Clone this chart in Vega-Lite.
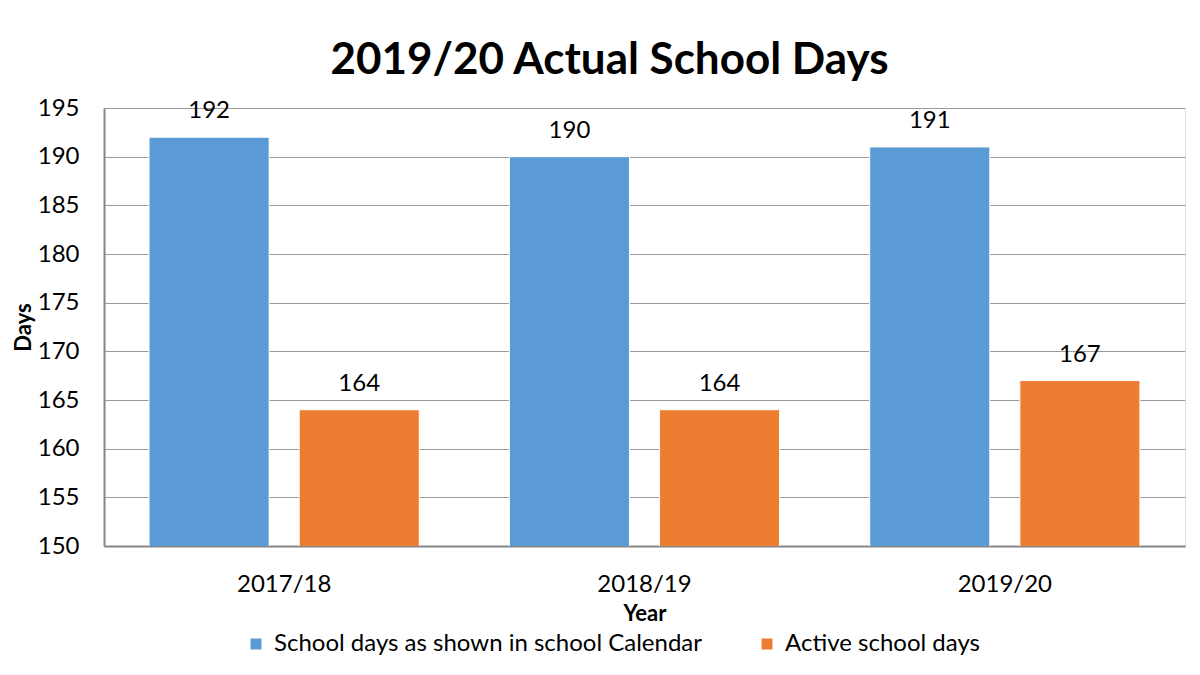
{
  "$schema": "https://vega.github.io/schema/vega-lite/v6.json",
  "autosize": "none",
  "width": 1081,
  "height": 438,
  "padding": {"left": 104, "top": 108, "right": 15, "bottom": 129},
  "background": "white",
  "title": {
    "text": "2019/20 Actual School Days",
    "font": "Lato",
    "fontSize": 44,
    "fontWeight": "bold",
    "color": "black",
    "anchor": "middle",
    "frame": "group",
    "baseline": "alphabetic",
    "offset": -22,
    "dx": -35
  },
  "data": {
    "values": [
      {"Year": "2017/18", "Series": "School days as shown in school Calendar", "Days": 192},
      {"Year": "2017/18", "Series": "Active school days", "Days": 164},
      {"Year": "2018/19", "Series": "School days as shown in school Calendar", "Days": 190},
      {"Year": "2018/19", "Series": "Active school days", "Days": 164},
      {"Year": "2019/20", "Series": "School days as shown in school Calendar", "Days": 191},
      {"Year": "2019/20", "Series": "Active school days", "Days": 167}
    ]
  },
  "encoding": {
    "x": {
      "field": "Year", "type": "nominal", "title": "Year",
      "scale": {"paddingInner": 0.25, "paddingOuter": 0.125},
      "axis": {
        "labelAngle": 0, "labelFont": "Lato", "labelFontSize": 24, "labelColor": "black",
        "labelPadding": 26, "ticks": false, "domainColor": "#868686", "domainWidth": 2,
        "titleFont": "Lato", "titleFontSize": 22, "titleFontWeight": "bold", "titleColor": "black",
        "titlePadding": 7
      }
    },
    "xOffset": {
      "field": "Series", "type": "nominal",
      "sort": ["School days as shown in school Calendar", "Active school days"],
      "scale": {"paddingInner": 0.2, "paddingOuter": 0}
    },
    "y": {
      "field": "Days", "type": "quantitative", "title": "Days",
      "scale": {"domain": [150, 195], "zero": false, "nice": false},
      "axis": {
        "values": [150, 155, 160, 165, 170, 175, 180, 185, 190, 195],
        "labelFont": "Lato", "labelFontSize": 24, "labelColor": "black", "labelPadding": 25,
        "ticks": false, "domainColor": "#868686", "domainWidth": 2,
        "grid": true, "gridColor": "#9a9a9a", "gridWidth": 1.2,
        "titleFont": "Lato", "titleFontSize": 22, "titleFontWeight": "bold", "titleColor": "black",
        "titlePadding": 2
      }
    }
  },
  "layer": [
    {
      "mark": {"type": "bar", "stroke": "white", "strokeWidth": 1, "clip": true},
      "encoding": {
        "color": {
          "field": "Series", "type": "nominal",
          "sort": ["School days as shown in school Calendar", "Active school days"],
          "scale": {"domain": ["School days as shown in school Calendar", "Active school days"], "range": ["#5B9BD5", "#ED7D31"]},
          "legend": {
            "orient": "none", "legendX": 140, "legendY": 524, "direction": "horizontal", "title": null,
            "symbolType": "square", "symbolSize": 120, "symbolStrokeWidth": 0, "symbolOffset": 0,
            "labelFont": "Lato", "labelFontSize": 24, "labelColor": "black", "labelLimit": 0, "labelOffset": 6,
            "columnPadding": 52
          }
        }
      }
    },
    {
      "mark": {"type": "text", "baseline": "bottom", "dy": -14, "font": "Lato", "fontSize": 24, "color": "black"},
      "encoding": {
        "text": {"field": "Days", "type": "quantitative"}
      }
    }
  ]
}
